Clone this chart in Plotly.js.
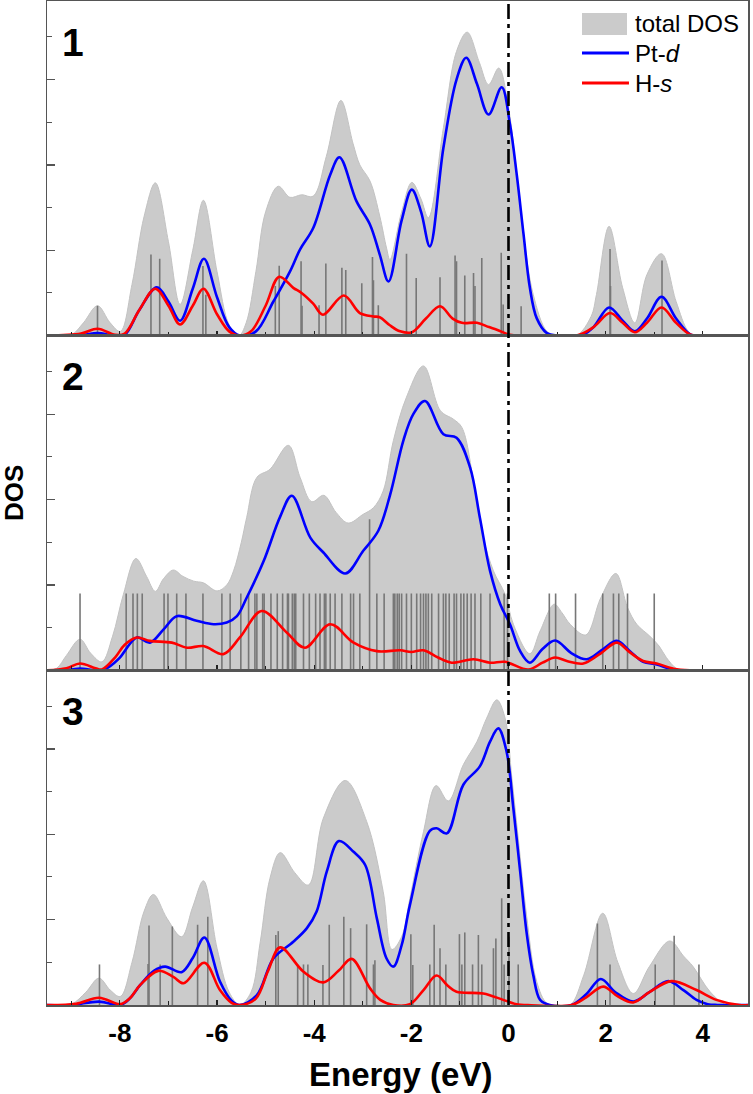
<!DOCTYPE html>
<html>
<head>
<meta charset="utf-8">
<script src="https://cdn.plot.ly/plotly-3.0.1.min.js"></script>
<style>html,body{margin:0;padding:0;background:#fff;}#chart{width:753px;height:1094px;}</style>
</head>
<body>
<div id="chart"></div>
<script>
// ---------- Panel 1 ----------
const tot1X = [-9.5,-9.0,-8.75,-8.46,-8.2,-7.99,-7.75,-7.5,-7.27,-7.0,-6.76,-6.5,-6.28,-6.0,-5.75,-5.55,-5.4,-5.2,-5.0,-4.74,-4.5,-4.26,-4.02,-3.75,-3.45,-3.2,-3.06,-2.85,-2.65,-2.51,-2.44,-2.2,-1.99,-1.8,-1.65,-1.34,-1.07,-0.85,-0.6,-0.41,-0.2,0.0,0.17,0.31,0.51,0.79,1.0,1.4,1.7,1.81,2.07,2.35,2.6,2.85,3.15,3.45,3.7,3.85,4.93];
const tot1Y = [0,0.02,0.3,0.70,0.3,0.10,1.2,2.8,3.58,2.2,0.73,2.0,3.17,1.5,0.25,0.0,0.3,1.5,2.9,3.5,3.24,3.3,3.27,4.2,5.51,4.5,4.0,3.62,2.8,2.05,1.78,2.9,3.59,3.2,2.76,4.87,6.66,7.11,6.4,5.88,6.27,5.34,3.77,2.37,0.96,0.1,0,0,0.45,0.96,2.56,1.12,0.30,1.43,1.92,0.80,0.1,0,0];
const pt1X = [-9.5,-8.8,-8.46,-8.1,-7.9,-7.6,-7.24,-7.0,-6.76,-6.5,-6.27,-6.0,-5.75,-5.53,-5.2,-4.84,-4.5,-4.29,-4.02,-3.67,-3.48,-3.13,-2.85,-2.65,-2.47,-2.2,-1.99,-1.8,-1.62,-1.34,-1.07,-0.87,-0.65,-0.41,-0.14,0.03,0.17,0.31,0.44,0.58,0.79,1.0,1.5,1.75,2.07,2.35,2.6,2.85,3.15,3.45,3.75,4.0,4.93];
const pt1Y = [0,0.01,0.06,0.0,0.02,0.6,1.13,0.8,0.35,1.1,1.80,0.9,0.2,0,0.1,0.80,1.5,2.02,2.52,3.77,4.18,3.15,2.60,1.9,1.27,2.7,3.42,2.9,2.09,4.4,6.0,6.51,5.9,5.18,5.82,4.95,3.77,2.37,1.12,0.41,0.06,0,0,0.2,0.66,0.35,0.10,0.4,0.91,0.4,0.02,0,0];
const hs1X = [-9.5,-8.8,-8.46,-8.1,-7.9,-7.6,-7.27,-7.0,-6.76,-6.5,-6.28,-6.0,-5.75,-5.53,-5.3,-5.0,-4.72,-4.43,-4.26,-4.02,-3.82,-3.39,-3.06,-2.78,-2.65,-2.45,-2.23,-1.99,-1.7,-1.41,-1.15,-0.96,-0.65,-0.4,-0.24,0.03,0.3,1.4,1.75,2.09,2.35,2.6,2.85,3.15,3.45,3.75,4.0,4.93];
const hs1Y = [0,0.05,0.16,0.02,0.05,0.6,1.10,0.7,0.26,0.7,1.10,0.5,0.1,0,0.1,0.7,1.38,1.12,1.0,0.75,0.49,0.94,0.53,0.45,0.43,0.25,0.1,0.08,0.4,0.69,0.4,0.30,0.30,0.2,0.14,0.02,0,0,0.2,0.53,0.3,0.08,0.3,0.66,0.3,0.02,0,0];
const stick1X = [-8.46,-7.36,-7.18,-6.29,-6.23,-4.80,-4.72,-4.27,-4.25,-3.90,-3.76,-3.43,-3.35,-3.02,-2.80,-2.78,-2.68,-2.10,-1.90,-1.41,-1.10,-1.07,-0.90,-0.72,-0.69,-0.55,-0.15,-0.11,0.26,2.09,2.10,3.16];
const stick1H = [0.70,1.90,1.80,1.63,0.96,1.16,1.64,1.74,0.70,0.71,1.69,1.59,1.54,1.23,1.84,1.30,0.71,1.92,1.35,1.37,1.88,1.74,1.41,1.47,1.16,1.82,1.94,0.73,0.69,2.03,1.16,1.76];

// ---------- Panel 2 ----------
const tot2X = [-9.5,-9.3,-9.1,-8.82,-8.6,-8.37,-8.15,-7.93,-7.67,-7.45,-7.27,-7.1,-6.90,-6.7,-6.48,-6.28,-6.00,-5.8,-5.66,-5.5,-5.39,-5.18,-4.91,-4.53,-4.29,-4.05,-3.80,-3.55,-3.30,-3.0,-2.78,-2.58,-2.37,-2.1,-1.75,-1.4,-1.13,-0.96,-0.72,-0.52,-0.31,-0.07,0.10,0.44,0.65,0.94,1.1,1.27,1.59,1.9,2.21,2.45,2.64,2.91,3.1,3.25,3.45,3.6,4.93];
const tot2Y = [0,0.05,0.35,0.73,0.4,0.2,0.8,1.77,2.62,2.2,1.85,2.15,2.35,2.2,2.09,2.05,1.86,2.0,2.33,3.0,3.58,4.52,4.71,5.27,4.52,3.95,4.10,3.7,3.45,3.65,3.81,4.2,5.38,6.4,7.13,6.08,5.88,5.69,4.44,3.11,2.33,1.78,1.08,0.39,0.92,1.55,1.35,1.08,0.83,1.7,2.27,1.47,1.08,0.80,0.57,0.3,0.05,0,0];
const pt2X = [-9.5,-9.0,-8.82,-8.37,-8.2,-8.0,-7.65,-7.38,-7.1,-6.83,-6.42,-6.07,-5.8,-5.59,-5.39,-5.04,-4.7,-4.46,-4.08,-3.81,-3.36,-2.99,-2.68,-2.44,-2.16,-1.96,-1.72,-1.34,-1.07,-0.79,-0.59,-0.38,-0.17,0.03,0.24,0.44,0.7,0.96,1.3,1.61,1.95,2.23,2.5,2.77,3.05,3.46,4.93];
const pt2Y = [0,0.02,0.04,0,0.1,0.3,0.77,0.65,0.96,1.27,1.16,1.08,1.12,1.27,1.70,2.56,3.6,4.09,3.11,2.76,2.27,2.8,3.27,4.1,5.4,6.0,6.31,5.53,5.45,4.75,3.58,2.33,1.55,1.08,0.45,0.18,0.5,0.70,0.4,0.26,0.5,0.69,0.45,0.2,0.14,0,0];
const hs2X = [-9.5,-9.1,-8.82,-8.5,-8.37,-8.1,-7.9,-7.65,-7.38,-6.93,-6.62,-6.28,-5.87,-5.53,-5.08,-4.56,-4.19,-3.67,-3.19,-2.71,-2.23,-2.0,-1.75,-1.45,-1.17,-0.72,-0.38,-0.07,0.41,0.7,0.96,1.2,1.54,1.9,2.23,2.5,2.77,3.05,3.4,3.73,4.93];
const hs2Y = [0,0.05,0.16,0.05,0.02,0.3,0.6,0.77,0.69,0.65,0.53,0.57,0.38,0.77,1.39,0.88,0.53,1.08,0.65,0.45,0.47,0.43,0.47,0.3,0.18,0.26,0.18,0.2,0.02,0.18,0.30,0.22,0.16,0.4,0.65,0.42,0.22,0.16,0.04,0,0];
const stick2X = [-8.82,-7.87,-7.73,-7.64,-7.54,-7.09,-7.01,-6.83,-6.64,-6.29,-5.90,-5.73,-5.51,-5.35,-5.22,-5.18,-5.06,-5.03,-4.89,-4.76,-4.65,-4.55,-4.53,-4.45,-4.41,-4.38,-4.22,-4.10,-3.97,-3.88,-3.79,-3.76,-3.67,-3.57,-3.43,-3.25,-3.19,-3.06,-2.86,-2.71,-2.56,-2.37,-2.34,-2.29,-2.25,-2.20,-2.10,-2.00,-1.89,-1.81,-1.75,-1.70,-1.65,-1.58,-1.44,-1.34,-1.29,-1.22,-1.12,-1.07,-0.98,-0.92,-0.85,-0.77,-0.69,-0.57,-0.38,-0.09,-0.02,0.84,0.97,1.38,1.94,2.16,2.27,2.45,3.00];
const stick2H = [1.8,1.8,1.8,1.8,1.8,1.8,1.8,1.8,1.8,1.8,1.8,1.8,1.8,1.8,1.8,1.8,1.8,1.8,1.8,1.8,1.8,1.8,1.8,1.8,1.8,1.8,1.8,1.8,1.8,1.8,1.8,1.8,1.8,1.8,1.8,1.8,1.8,1.8,3.54,1.8,1.8,1.8,1.8,1.8,1.8,1.8,1.8,1.8,1.8,1.8,1.8,1.8,1.8,1.8,1.8,1.8,1.8,1.8,1.8,1.8,1.8,1.8,1.8,1.8,1.8,1.8,1.8,1.8,1.8,1.8,1.8,1.8,1.8,1.8,1.8,1.8,1.8];

// ---------- Panel 3 ----------
const tot3X = [-9.5,-9.0,-8.7,-8.43,-8.2,-7.99,-7.75,-7.5,-7.31,-7.03,-6.73,-6.5,-6.28,-6.0,-5.75,-5.53,-5.3,-5.11,-4.91,-4.70,-4.4,-4.12,-3.81,-3.36,-2.92,-2.58,-2.4,-2.2,-2.03,-1.75,-1.49,-1.24,-0.93,-0.65,-0.45,-0.24,-0.07,0.07,0.2,0.37,0.58,0.79,1.0,1.27,1.55,1.94,2.25,2.57,2.9,3.32,3.6,3.80,4.15,4.49,4.93];
const tot3Y = [0,0.02,0.3,0.63,0.35,0.2,1.0,2.2,2.59,2.03,1.60,2.3,2.91,1.33,0.3,0,0.3,1.48,2.97,3.57,3.1,2.81,4.38,5.26,4.30,2.66,1.3,1.6,2.5,4.06,5.14,4.78,5.63,6.17,6.72,7.15,6.72,5.31,3.91,2.11,0.55,0.04,0,0,0.7,2.15,1.0,0.27,0.9,1.5,1.15,0.9,0.31,0,0];
const pt3X = [-9.5,-9.0,-8.43,-7.99,-7.8,-7.58,-7.3,-7.07,-6.73,-6.5,-6.26,-5.94,-5.7,-5.53,-5.18,-4.84,-4.43,-4.15,-3.95,-3.74,-3.49,-3.19,-2.95,-2.71,-2.51,-2.37,-2.2,-2.03,-1.62,-1.48,-1.27,-0.93,-0.59,-0.38,-0.21,-0.04,0.10,0.24,0.37,0.51,0.65,0.85,1.3,1.6,1.90,2.2,2.57,2.9,3.29,3.6,3.87,4.1,4.3,4.93];
const pt3Y = [0,0,0.08,0,0.15,0.47,0.8,0.9,0.77,1.1,1.58,0.55,0.1,0,0.23,1.09,1.48,1.80,2.19,3.13,3.84,3.59,3.28,2.03,1.09,0.9,1.4,2.34,4.08,4.14,4.02,5.16,5.59,6.17,6.48,5.94,4.61,3.13,1.72,0.70,0.12,0,0,0.25,0.61,0.3,0.08,0.3,0.56,0.35,0.12,0.02,0,0];
const hs3X = [-9.5,-8.9,-8.43,-7.99,-7.8,-7.58,-7.21,-6.90,-6.69,-6.26,-5.94,-5.7,-5.53,-5.2,-4.95,-4.70,-4.22,-3.81,-3.50,-3.23,-2.85,-2.64,-2.37,-2.03,-1.75,-1.48,-1.25,-1.07,-0.52,-0.11,0.2,0.4,1.3,1.6,1.95,2.25,2.57,2.9,3.36,3.87,4.28,4.76,4.93];
const hs3Y = [0,0.03,0.17,0.02,0.15,0.47,0.8,0.66,0.51,0.99,0.35,0.05,0,0.15,0.8,1.35,0.78,0.53,0.8,1.08,0.39,0.12,0,0.02,0.35,0.69,0.45,0.31,0.27,0.12,0.01,0,0,0.18,0.43,0.2,0.06,0.3,0.56,0.35,0.12,0,0];
const stick3X = [-8.42,-7.42,-7.40,-7.17,-6.92,-6.40,-6.19,-4.79,-4.74,-4.34,-4.22,-4.13,-3.82,-3.69,-3.39,-3.25,-2.92,-2.78,-2.75,-2.01,-1.97,-1.62,-1.53,-1.41,-1.29,-1.01,-0.96,-0.90,-0.74,-0.62,-0.55,-0.31,-0.26,-0.14,-0.09,0.01,0.20,1.83,2.09,3.02,3.41,3.92];
const stick3H = [0.95,0.96,1.86,0.95,1.84,1.88,2.07,1.64,1.73,0.94,0.95,0.95,0.94,1.88,2.07,1.80,1.89,0.95,1.05,1.66,0.94,0.95,1.88,1.33,0.95,1.66,0.95,1.70,0.95,1.64,0.95,1.33,1.56,2.50,0.95,1.60,0.95,1.91,0.95,0.95,1.62,0.95];

const panelLabels = ['1', '2', '3'];
const xTickVals = [-8, -6, -4, -2, 0, 2, 4];
const xTickText = ['-8', '-6', '-4', '-2', '0', '2', '4'];
const legendNames = ['total DOS', 'Pt-<i>d</i>', 'H-<i>s</i>'];

const panels = [
  {tx: tot1X, ty: tot1Y, bx: pt1X, by: pt1Y, rx: hs1X, ry: hs1Y, sx: stick1X, sh: stick1H},
  {tx: tot2X, ty: tot2Y, bx: pt2X, by: pt2Y, rx: hs2X, ry: hs2Y, sx: stick2X, sh: stick2H},
  {tx: tot3X, ty: tot3Y, bx: pt3X, by: pt3Y, rx: hs3X, ry: hs3Y, sx: stick3X, sh: stick3H}
];

const GRAY = '#cbcbcb', BLUE = '#0000ff', RED = '#ff0000', STICK = '#777777';
const FONT = 'Arial, "Liberation Sans", sans-serif';
const YMAX = 7.84;
const XR = [-9.5, 4.93];

const traces = [];
const layout = {
  width: 753, height: 1094,
  margin: {l: 47, r: 5, t: 1, b: 89},
  paper_bgcolor: '#fff', plot_bgcolor: '#fff',
  showlegend: false,
  font: {family: FONT, color: '#000'},
  annotations: [], shapes: []
};
const domains = [[0.6667, 1], [0.3333, 0.6667], [0, 0.3333]];

panels.forEach((p, i) => {
  const xa = i === 0 ? 'x' : 'x' + (i + 1);
  const ya = i === 0 ? 'y' : 'y' + (i + 1);
  traces.push({x: p.tx, y: p.ty, xaxis: xa, yaxis: ya, type: 'scatter', mode: 'lines',
    fill: 'tozeroy', fillcolor: GRAY, line: {color: '#c2c2c2', width: 1, shape: 'spline', smoothing: 1}, hoverinfo: 'skip'});
  const sxs = [], sys = [];
  p.sx.forEach((v, k) => { sxs.push(v, v, null); sys.push(0, p.sh[k], null); });
  traces.push({x: sxs, y: sys, xaxis: xa, yaxis: ya, type: 'scatter', mode: 'lines',
    line: {color: STICK, width: 1.6}, hoverinfo: 'skip'});
  traces.push({x: p.bx, y: p.by, xaxis: xa, yaxis: ya, type: 'scatter', mode: 'lines',
    line: {color: BLUE, width: 2.6, shape: 'spline', smoothing: 1}});
  traces.push({x: p.rx, y: p.ry, xaxis: xa, yaxis: ya, type: 'scatter', mode: 'lines',
    line: {color: RED, width: 2.6, shape: 'spline', smoothing: 1}});

  const xKey = i === 0 ? 'xaxis' : 'xaxis' + (i + 1);
  const yKey = i === 0 ? 'yaxis' : 'yaxis' + (i + 1);
  layout[xKey] = {
    anchor: ya, range: XR, showgrid: false, zeroline: false,
    showline: true, mirror: true, linecolor: '#555', linewidth: 1.5,
    ticks: 'inside', ticklen: 5, tickwidth: 1.2, tickcolor: '#222',
    tickmode: 'array', tickvals: xTickVals, ticktext: xTickText,
    minor: {tickmode: 'linear', tick0: 0, dtick: 1, ticks: 'inside', ticklen: 4, tickwidth: 1, tickcolor: '#222'},
    showticklabels: i === 2,
    tickfont: {family: FONT, size: 26, weight: 'bold', color: '#000'},
    ticklabelstandoff: 4
  };
  if (i > 0) layout[xKey].matches = 'x';
  layout[yKey] = {
    anchor: xa, domain: domains[i], range: [0, YMAX], showgrid: false, zeroline: false,
    showline: true, mirror: true, linecolor: '#555', linewidth: 1.5,
    ticks: 'inside', tickmode: 'linear', tick0: 0, dtick: 2, ticklen: 8, tickwidth: 1.2, tickcolor: '#555',
    minor: {tickmode: 'linear', tick0: 0, dtick: 1, ticks: 'inside', ticklen: 5, tickwidth: 1, tickcolor: '#555'},
    showticklabels: false
  };
  layout.annotations.push({xref: xa + ' domain', yref: ya + ' domain', x: 0.019, y: 0.877,
    xanchor: 'left', yanchor: 'middle', text: panelLabels[i], showarrow: false,
    font: {family: FONT, size: 39, weight: 'bold', color: '#000'}});
});

// Fermi level dash-dot line
layout.shapes.push({type: 'line', xref: 'x3', yref: 'paper', x0: 0, x1: 0, y0: 0, y1: 1,
  line: {color: '#000', width: 2.6, dash: '15px,5px,4px,5px'}});

// Axis titles
layout.annotations.push({xref: 'paper', yref: 'paper', x: 0.5036, y: -0.0697, xanchor: 'center', yanchor: 'middle',
  text: 'Energy (eV)', showarrow: false, font: {family: FONT, size: 33, weight: 'bold', color: '#000'}});
layout.annotations.push({xref: 'paper', yref: 'paper', x: -0.047, y: 0.51, xanchor: 'center', yanchor: 'middle',
  text: 'DOS', textangle: -90, showarrow: false, borderpad: 0, font: {family: FONT, size: 26, weight: 'bold', color: '#000'}});

// Legend (drawn manually, top-right of panel 1)
layout.shapes.push({type: 'rect', xref: 'paper', yref: 'paper', x0: 0.7632, x1: 0.8274, y0: 0.9661, y1: 0.9880,
  fillcolor: GRAY, line: {width: 0}});
layout.shapes.push({type: 'line', xref: 'paper', yref: 'paper', x0: 0.7632, x1: 0.8302, y0: 0.9482, y1: 0.9482,
  line: {color: BLUE, width: 3}});
layout.shapes.push({type: 'line', xref: 'paper', yref: 'paper', x0: 0.7632, x1: 0.8302, y0: 0.9183, y1: 0.9183,
  line: {color: RED, width: 3}});
const legY = [0.9771, 0.9482, 0.9183];
legendNames.forEach((t, k) => {
  layout.annotations.push({xref: 'paper', yref: 'paper', x: 0.8365, y: legY[k], xanchor: 'left', yanchor: 'middle',
    text: t, showarrow: false, font: {family: FONT, size: 24, color: '#000'}});
});

Plotly.newPlot('chart', traces, layout, {displayModeBar: false, staticPlot: true});
</script>
</body>
</html>
